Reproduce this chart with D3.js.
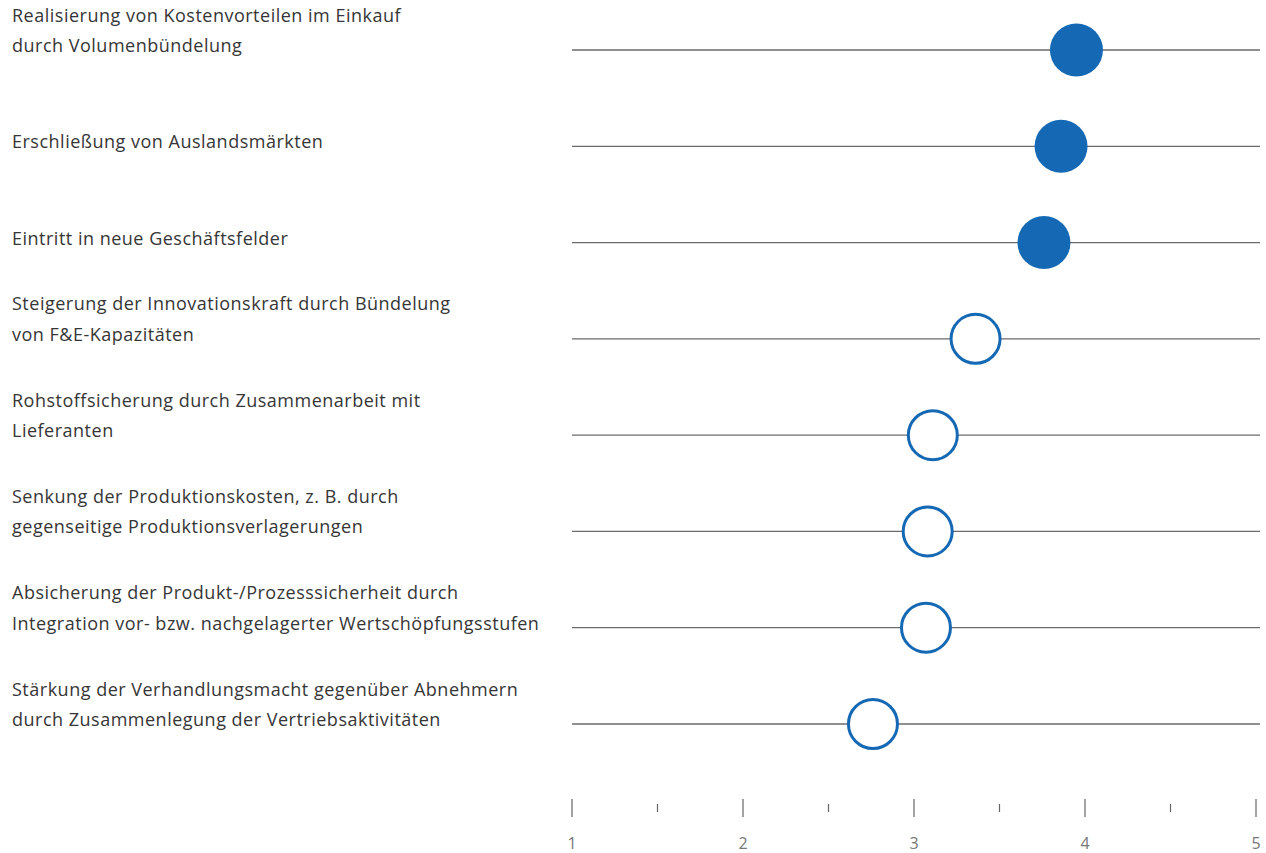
<!DOCTYPE html>
<html>
<head>
<meta charset="utf-8">
<script src="https://cdn.jsdelivr.net/npm/d3@7"></script>
<style>
  html, body { margin: 0; padding: 0; background: #fff; }
  svg { display: block; }
</style>
</head>
<body>
<svg id="chart" width="1266" height="853"></svg>
<script>
// Motive / goals, each label split into its display lines
const categories = [
  ["Realisierung von Kostenvorteilen im Einkauf", "durch Volumenbündelung"],
  ["Erschließung von Auslandsmärkten"],
  ["Eintritt in neue Geschäftsfelder"],
  ["Steigerung der Innovationskraft durch Bündelung", "von F&E-Kapazitäten"],
  ["Rohstoffsicherung durch Zusammenarbeit mit", "Lieferanten"],
  ["Senkung der Produktionskosten, z. B. durch", "gegenseitige Produktionsverlagerungen"],
  ["Absicherung der Produkt-/Prozesssicherheit durch", "Integration vor- bzw. nachgelagerter Wertschöpfungsstufen"],
  ["Stärkung der Verhandlungsmacht gegenüber Abnehmern", "durch Zusammenlegung der Vertriebsaktivitäten"]
];

// Mean rating on a 1–5 scale
const values = [3.95, 3.86, 3.76, 3.36, 3.11, 3.08, 3.07, 2.76];

// Top three motives are highlighted with a filled marker
const highlighted = [true, true, true, false, false, false, false, false];

const majorTicks = [1, 2, 3, 4, 5];
const minorTicks = [1.5, 2.5, 3.5, 4.5];

const svg = d3.select("#chart");
const blue = "#1569b4";
const labelFont = "'Open Sans', 'Noto Sans', sans-serif";

const x = d3.scaleLinear().domain([1, 5]).range([572, 1256]);
const y = d3.scalePoint()
  .domain(d3.range(categories.length))
  .range([50, 724]);

const rows = svg.append("g")
  .selectAll("g.row")
  .data(categories.map((lines, i) => ({ lines, value: values[i], filled: highlighted[i], i })))
  .join("g")
  .attr("class", "row")
  .attr("transform", d => `translate(0,${y(d.i)})`);

// Horizontal guide per row
rows.append("line")
  .attr("x1", x(1))
  .attr("x2", 1260)
  .attr("y1", 0)
  .attr("y2", 0)
  .attr("stroke", "#6b6b6b")
  .attr("stroke-width", 1.3);

// Row labels: last line sits on the guide, earlier lines stack above it
rows.append("text")
  .attr("font-family", labelFont)
  .attr("font-size", 18)
  .attr("letter-spacing", "0.5px")
  .attr("fill", "#363636")
  .selectAll("tspan")
  .data(d => d.lines.map((t, k) => ({ t, k, n: d.lines.length })))
  .join("tspan")
  .attr("x", 12)
  .attr("y", d => 2 - (d.n - 1 - d.k) * 30.5)
  .text(d => d.t);

// Value markers
rows.append("circle")
  .attr("cx", d => x(d.value))
  .attr("cy", 0)
  .attr("r", d => d.filled ? 26.5 : 24.5)
  .attr("fill", d => d.filled ? blue : "#fff")
  .attr("stroke", d => d.filled ? "none" : blue)
  .attr("stroke-width", 3);

// Bottom scale
const axisG = svg.append("g").attr("transform", "translate(0,799)");

axisG.selectAll("line.major")
  .data(majorTicks)
  .join("line")
  .attr("class", "major")
  .attr("x1", d => x(d)).attr("x2", d => x(d))
  .attr("y1", 0).attr("y2", 18)
  .attr("stroke", "#666")
  .attr("stroke-width", 1.2);

axisG.selectAll("line.minor")
  .data(minorTicks)
  .join("line")
  .attr("class", "minor")
  .attr("x1", d => x(d)).attr("x2", d => x(d))
  .attr("y1", 5).attr("y2", 13)
  .attr("stroke", "#666")
  .attr("stroke-width", 1.2);

axisG.selectAll("text")
  .data(majorTicks)
  .join("text")
  .attr("x", d => x(d))
  .attr("y", 50)
  .attr("text-anchor", "middle")
  .attr("font-family", labelFont)
  .attr("font-size", 16)
  .attr("fill", "#777")
  .text(d => d);
</script>
</body>
</html>
